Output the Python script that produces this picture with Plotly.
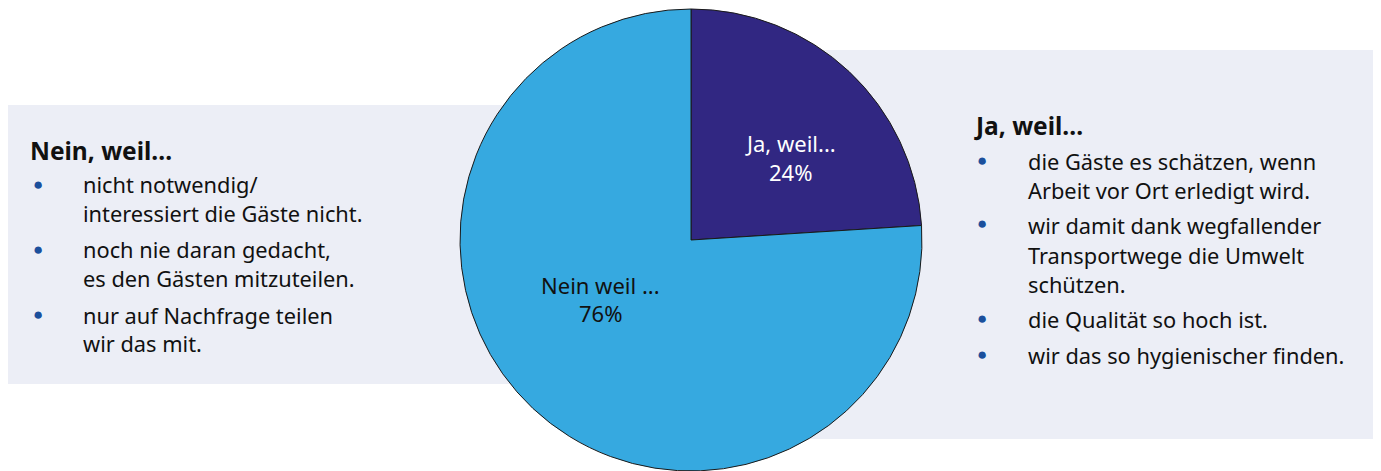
import plotly.graph_objects as go

# ---- data ----
slice_labels = ["Ja, weil...", "Nein weil ..."]
slice_values = [24, 76]
slice_colors = ["#312782", "#36A9E0"]
slice_text_colors = ["#FFFFFF", "#111111"]

nein_title = "Nein, weil..."
nein_items = [
    ["nicht notwendig/", "interessiert die Gäste nicht."],
    ["noch nie daran gedacht,", "es den Gästen mitzuteilen."],
    ["nur auf Nachfrage teilen", "wir das mit."],
]
ja_title = "Ja, weil..."
ja_items = [
    ["die Gäste es schätzen, wenn", "Arbeit vor Ort erledigt wird."],
    ["wir damit dank wegfallender", "Transportwege die Umwelt", "schützen."],
    ["die Qualität so hoch ist."],
    ["wir das so hygienischer finden."],
]

# page has an 8px body margin: map reference pixels to figure pixels
OFF = 8
W, H = 1381 - OFF, 471 - OFF
FONT = "Noto Sans"
PANEL = "#ECEEF6"
BULLET = "#1B4F9C"
BODY = 21.8


def px(x):
    return (x - OFF) / W


def py(y):
    return 1 - (y - OFF) / H


fig = go.Figure()
fig.add_trace(go.Pie(
    labels=slice_labels,
    values=slice_values,
    sort=False,
    direction="clockwise",
    rotation=0,
    marker=dict(colors=slice_colors, line=dict(color="#1a1a1a", width=1)),
    textinfo="none",
    hoverinfo="label+percent",
    showlegend=False,
    domain=dict(x=[px(459), px(923)], y=[0, py(9)]),
))

shapes = [
    dict(type="rect", xref="paper", yref="paper", x0=px(8), x1=px(600), y0=py(384), y1=py(105),
         fillcolor=PANEL, line=dict(width=0), layer="below"),
    dict(type="rect", xref="paper", yref="paper", x0=px(760), x1=px(1378), y0=py(439), y1=py(50),
         fillcolor=PANEL, line=dict(width=0), layer="below"),
]

annotations = []


def txt(x, y, s, size=BODY, color="#111111", bold=False, xanchor="left"):
    annotations.append(dict(
        x=px(x), y=py(y), xref="paper", yref="paper", text=("<b>%s</b>" % s) if bold else s,
        showarrow=False, xanchor=xanchor, yanchor="middle",
        font=dict(family=FONT, size=size, color=color),
    ))


def bullet(x, y):
    annotations.append(dict(
        x=px(x), y=py(y), xref="paper", yref="paper", text="●",
        showarrow=False, xanchor="center", yanchor="middle",
        font=dict(family=FONT, size=17, color=BULLET),
    ))


# left block
txt(28, 150, nein_title, size=24.5, bold=True)
left_y = [[185, 213], [250, 278], [315, 343]]
for item, ys in zip(nein_items, left_y):
    bullet(38, ys[0] - 2)
    for line, y in zip(item, ys):
        txt(81, y, line)

# right block
txt(972, 125, ja_title, size=24.5, bold=True)
right_y = [[161, 190], [225, 255, 284], [319], [355]]
for item, ys in zip(ja_items, right_y):
    bullet(982, ys[0] - 2)
    for line, y in zip(item, ys):
        txt(1026, y, line)

# slice labels
total = sum(slice_values)
label_pos = [(790, 143, 172), (600, 285, 313)]
for lab, val, col, (x, y1, y2) in zip(slice_labels, slice_values, slice_text_colors, label_pos):
    txt(x, y1, lab, size=22, color=col, xanchor="center")
    txt(x, y2, "%d%%" % round(100 * val / total), size=22, color=col, xanchor="center")

fig.update_layout(
    width=W, height=H,
    margin=dict(l=0, r=0, t=0, b=0),
    paper_bgcolor="white",
    plot_bgcolor="white",
    shapes=shapes,
    annotations=annotations,
)

fig.write_html("out.html")
